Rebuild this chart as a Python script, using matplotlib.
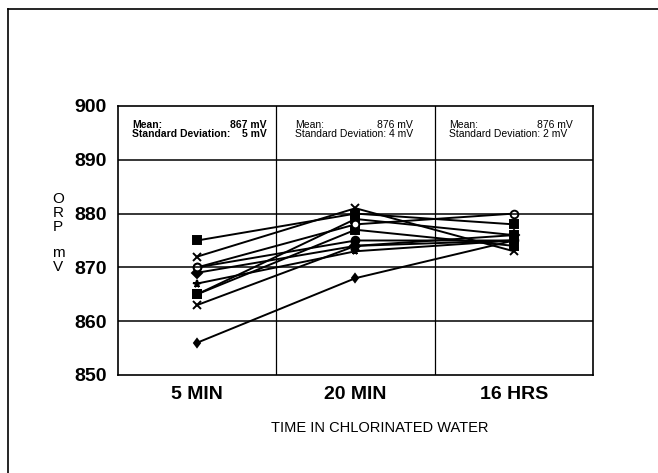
import matplotlib
matplotlib.use('Agg')
import matplotlib.pyplot as plt
from matplotlib.lines import Line2D

plt.rcParams['font.family'] = ['Liberation Sans', 'DejaVu Sans']

# data
times = ['5 MIN', '20 MIN', '16 HRS']
orp_5min = [875, 872, 870, 869, 867, 865, 865, 863, 856, 870]
orp_20min = [880, 881, 875, 874, 873, 879, 877, 874, 868, 878]
orp_16hrs = [878, 873, 875, 876, 875, 876, 874, 875, 875, 880]
markers = ['s', 'x', 'o', 'D', '*', 's', 's', 'x', 'd', 'o']
means = [867, 876, 876]
sds = [5, 4, 2]

fig = plt.figure(figsize=(6.58, 4.73), dpi=100)
ax = fig.add_axes([0.1793, 0.2072, 0.7219, 0.5687])

x = [0.5, 1.5, 2.5]
for i in range(len(orp_5min)):
    y = [orp_5min[i], orp_20min[i], orp_16hrs[i]]
    m = markers[i]
    filled = i != 9
    ax.plot(x, y, color='black', lw=1.4, marker=m,
            ms=5.5 if m != 'd' else 4.5,
            mfc='black' if filled else 'white', mec='black', mew=1.4)

ax.set_xlim(0, 3)
ax.set_ylim(850, 900)
ax.set_yticks([850, 860, 870, 880, 890, 900])
ax.set_yticklabels(['850', '860', '870', '880', '890', '900'],
                   fontsize=14, fontweight='bold')
ax.set_xticks(x)
ax.set_xticklabels(times, fontsize=14, fontweight='bold')
ax.tick_params(length=0, pad=8)
for yy in [860, 870, 880, 890]:
    ax.axhline(yy, color='black', lw=1.1)
for xx in [1, 2]:
    ax.axvline(xx, color='black', lw=0.9)
for s in ax.spines.values():
    s.set_linewidth(1.2)

# stats boxes
lefts = [0.09, 1.12, 2.09]
rights = [0.94, 1.86, 2.87]
for k in range(3):
    w = 'bold' if k == 0 else 'normal'
    ax.text(lefts[k], 896.5, 'Mean:', fontsize=7.5, fontweight=w, va='center')
    ax.text(rights[k], 896.5, f'{means[k]} mV', fontsize=7.5, fontweight=w,
            va='center', ha='right')
    if k == 0:
        ax.text(lefts[k], 894.8, 'Standard Deviation:', fontsize=7.5,
                fontweight=w, va='center')
        ax.text(rights[k], 894.8, f'{sds[k]} mV', fontsize=7.5, fontweight=w,
                va='center', ha='right')
    else:
        ax.text(lefts[k], 894.8, f'Standard Deviation: {sds[k]} mV',
                fontsize=7.5, fontweight=w, va='center')

fig.text(380 / 658, 1 - 428 / 473, 'TIME IN CHLORINATED WATER',
         fontsize=10.5, ha='center', va='center')

# stacked y label
for ch, py in zip('ORPmV', [199, 213, 227, 253, 267]):
    fig.text(58 / 658, 1 - py / 473, ch, fontsize=11, ha='center', va='center')

# outer frame (only top and left edges visible in scan)
fig.add_artist(Line2D([8 / 658, 8 / 658], [0, 1 - 9 / 473],
                      transform=fig.transFigure, color='black', lw=1.2))
fig.add_artist(Line2D([8 / 658, 1], [1 - 9 / 473, 1 - 9 / 473],
                      transform=fig.transFigure, color='black', lw=1.2))

fig.savefig('out.png', dpi=100)
